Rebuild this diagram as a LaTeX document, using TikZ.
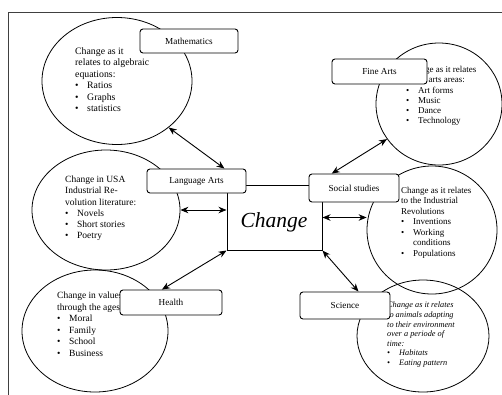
\documentclass[tikz,border=0pt]{standalone}
\usepackage{fontspec}
\setmainfont{Liberation Serif}
\usetikzlibrary{shapes.geometric,arrows.meta}
\newcommand{\bul}{\makebox[12pt][l]{\textbullet}}

\begin{document}
\begin{tikzpicture}[x=1pt,y=-1pt,
    bubble/.style={ellipse, draw, line width=0.8pt, inner sep=0pt},
    topic/.style={draw, fill=white, rounded corners=3pt, line width=0.9pt,
                  font=\fontsize{9.2}{10}\selectfont},
    note/.style={anchor=north west, align=left, inner sep=0pt,
                 font=\fontsize{9.5}{11}\selectfont},
    link/.style={<->, >={Stealth[length=8pt,width=6.5pt]}, line width=0.9pt}]
            \useasboundingbox (0,0) rectangle (502,394);
            \clip (0,0) rectangle (502,394);

            % Draw frame
            \draw[black!75, line width=0.8pt] (8.5,12) rectangle (540,420);

            % Draw circles
            \node[bubble, minimum width=150pt, minimum height=127pt] (mathcirc) at (117,81) {};
            \node[bubble, minimum width=126pt, minimum height=122pt] (fineartscirc) at (439,104) {};
            \node[bubble, minimum width=148pt, minimum height=120pt] (langcirc) at (106,210) {};
            \node[bubble, minimum width=130pt, minimum height=128pt] (socialcirc) at (432,230) {};
            \node[bubble, minimum width=146pt, minimum height=122pt] (healthcirc) at (95,331) {};
            \node[bubble, minimum width=132pt, minimum height=112pt] (sciencecirc) at (423,336) {};

            % Draw texts in the circles
            \node[note, font=\fontsize{9.8}{11.5}\selectfont] (mathtxt) at (75,47) {Change as it\\ relates to algebraic\\ equations:\\
                \bul Ratios\\ \bul Graphs\\ \bul statistics};
            \node[note, font=\fontsize{9}{10.3}\selectfont] (finetxt) at (406,66) {Change as it relates\\ to the arts areas:\\
                \bul Art forms\\ \bul Music\\ \bul Dance\\ \bul Technology};
            \node[note, font=\fontsize{9.5}{11.2}\selectfont] (langtxt) at (65,176) {Change in USA\\ Industrial Re-\\ volution literature:\\
                \bul Novels\\ \bul Short stories\\ \bul Poetry};
            \node[note, font=\fontsize{9}{10.5}\selectfont] (socialtxt) at (401,187) {Change as it relates\\ to the Industrial\\ Revolutions\\
                \bul Inventions\\ \bul Working\\ \hspace*{12pt}conditions\\ \bul Populations};
            \node[note, font=\fontsize{9.5}{11.5}\selectfont] (healthtxt) at (57,292) {Change in values\\ through the ages:\\
                \bul Moral\\ \bul Family\\ \bul School\\ \bul Business};
            \node[note, font=\fontsize{8.3}{9.6}\selectfont\itshape] (sciencetxt) at (387,302) {Change as it relates\\ to animals adapting\\ to their environment\\ over a periode of\\ time:\\
                \bul Habitats\\ \bul Eating pattern};

            % Draw center box
            \node[draw, line width=1pt, minimum width=95pt, minimum height=65pt] (change) at (274.5,217.5) {};
            \node[font=\fontsize{21.5}{23}\selectfont\itshape] (changelbl) at (274,222) {Change};

            % Draw subject boxes
            \node[topic, minimum width=98pt, minimum height=24pt] (mathbox) at (189,41) {Mathematics};
            \node[topic, minimum width=95pt, minimum height=25pt] (finebox) at (379.5,71.5) {Fine Arts};
            \node[topic, minimum width=99pt, minimum height=24pt] (langbox) at (196.5,181) {Language Arts};
            \node[topic, minimum width=90pt, minimum height=28pt] (socialbox) at (354,188) {Social studies};
            \node[topic, minimum width=102pt, minimum height=25pt] (healthbox) at (171,302.5) {Health};
            \node[topic, minimum width=90pt, minimum height=27pt] (sciencebox) at (345,305.5) {Science};

            % Draw arrows
            \draw[link] (mathcirc.-42) -- (langbox.24);
            \draw[link] (fineartscirc.-146) -- (socialbox.147);
            \draw[link] (langcirc.east) -- (langcirc.east -| change.west);
            \draw[link] (change.east) -- (change.east -| socialcirc.west);
            \draw[link] (healthbox.125) -- (change.south west);
            \draw[link] (change.south east) -- (sciencebox.46);
        \end{tikzpicture}
\end{document}
